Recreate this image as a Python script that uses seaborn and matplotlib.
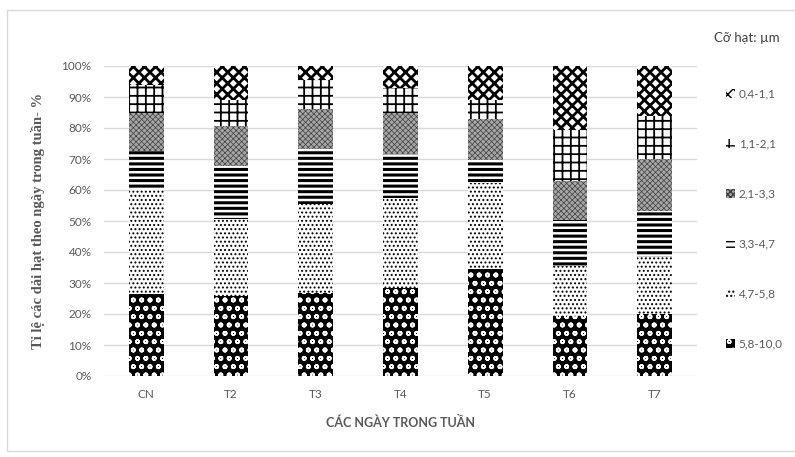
import numpy as np
import pandas as pd
import seaborn as sns
import matplotlib.pyplot as plt
from matplotlib.patches import Patch, Rectangle

# Du lieu (% theo ngay)
days = ["CN", "T2", "T3", "T4", "T5", "T6", "T7"]
bins = ["5,8-10,0", "4,7-5,8", "3,3-4,7", "2,1-3,3", "1,1-2,1", "0,4-1,1"]
p_58_100 = [26.4, 25.9, 26.8, 28.3, 34.5, 19.4, 20.0]
p_47_58 = [33.5, 24.6, 28.8, 29.1, 27.9, 16.0, 18.3]
p_33_47 = [12.6, 17.2, 17.5, 14.1, 7.5, 14.8, 14.8]
p_21_33 = [12.2, 12.9, 13.0, 13.2, 13.2, 12.6, 17.0]
p_11_21 = [9.2, 8.4, 9.4, 8.1, 6.1, 16.5, 13.7]
p_04_11 = [6.1, 11.0, 4.5, 7.2, 11.0, 20.7, 16.2]

# style des motifs (face, couleur du motif, hatch, epaisseur)
styles = {
    "5,8-10,0": ("black", "white", "oo", 1.2),
    "4,7-5,8": ("white", "black", "....", 0.9),
    "3,3-4,7": ("white", "black", "---", 2.2),
    "2,1-3,3": ("#a6a6a6", "#404040", "xxxxxx", 0.5),
    "1,1-2,1": ("white", "black", "++", 1.3),
    "0,4-1,1": ("white", "black", "xxx", 2.0),
}


def style_patch(p, face, hcol, hatch, lw):
    p.set_facecolor(face)
    p.set_edgecolor(hcol)
    p.set_hatch(hatch)
    p.set_linewidth(0)
    if hasattr(p, "set_hatch_linewidth"):
        p.set_hatch_linewidth(lw)
    else:
        p._hatch_linewidth = lw


df = pd.DataFrame({"day": days, "5,8-10,0": p_58_100, "4,7-5,8": p_47_58,
                   "3,3-4,7": p_33_47, "2,1-3,3": p_21_33,
                   "1,1-2,1": p_11_21, "0,4-1,1": p_04_11})
cum = df[bins].cumsum(axis=1)
cum = cum.div(cum[bins[-1]], axis=0) * 100
cum["day"] = days

sns.set_style("white")

fig = plt.figure(figsize=(7.95, 4.57), dpi=100)
ax = fig.add_axes([104 / 795, 1 - 376 / 457, 593 / 795, 310 / 457])

# empilement : on dessine du haut vers le bas
for b in reversed(bins):
    face, hcol, hatch, lw = styles[b]
    n0 = len(ax.patches)
    sns.barplot(data=cum, x="day", y=b, color=face, width=0.41,
                saturation=1, ax=ax, zorder=2)
    for p in ax.patches[n0:]:
        style_patch(p, face, hcol, hatch, lw)

ax.set_ylim(0, 100)
ax.set_xlim(-0.5, 6.5)
ax.set_yticks(np.arange(0, 101, 10))
ax.set_yticklabels([f"{v}%" for v in range(0, 101, 10)])
ax.yaxis.grid(True, color="#d9d9d9", linewidth=1, zorder=0)
ax.set_axisbelow(True)
for s in ax.spines.values():
    s.set_visible(False)
ax.tick_params(axis="both", length=0, labelsize=8.5, labelcolor="#595959", pad=9)
for t in ax.get_xticklabels() + ax.get_yticklabels():
    t.set_family("Lato")

ax.set_xlabel("CÁC NGÀY TRONG TUẦN", fontsize=9, fontweight="bold",
              color="#595959", family="Lato", labelpad=12)
ax.set_ylabel("Tỉ lệ các dải hạt theo ngày trong tuần- %", fontsize=10.5,
              fontweight="bold", color="#595959", family="Liberation Serif",
              labelpad=12)

# legende
handles = []
for b in reversed(bins):
    face, hcol, hatch, lw = styles[b]
    h = Patch(label=b)
    style_patch(h, face, hcol, hatch, lw)
    handles.append(h)
leg = fig.legend(handles=handles, loc="upper left",
                 bbox_to_anchor=(715 / 795, 1 - 78 / 457), frameon=False,
                 handlelength=0.8, handleheight=0.8, handletextpad=0.3,
                 labelspacing=3.3, prop={"family": "Lato", "size": 8.5})
for t in leg.get_texts():
    t.set_color("#595959")
fig.text(714 / 795, 1 - 38 / 457, "Cỡ hạt: µm", fontsize=9.5, color="#404040",
         family="Lato", va="center", ha="left")

# cadre du graphique
fig.patches.append(Rectangle((7 / 795, 1 - 451 / 457), 0.995, 441 / 457,
                             transform=fig.transFigure, fill=False,
                             edgecolor="#d9d9d9", linewidth=1))

fig.savefig("out.png", dpi=100)
